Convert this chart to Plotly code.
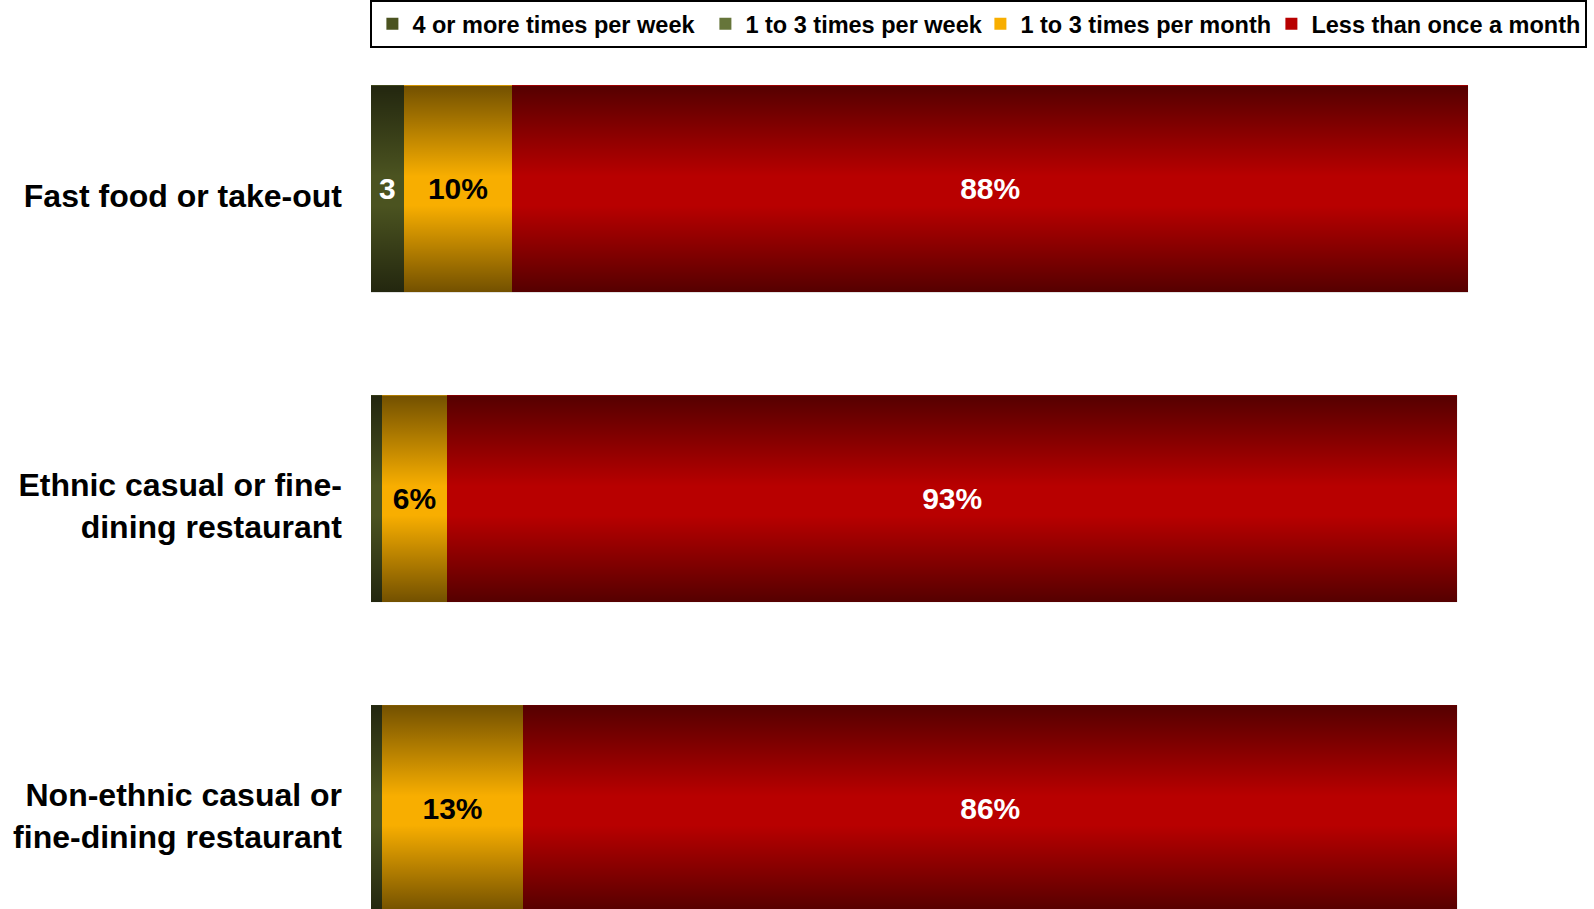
import base64
import plotly.graph_objects as go

# ---- data ----
categories = [
    "Fast food or take-out",
    "Ethnic casual or fine-<br>dining restaurant",
    "Non-ethnic casual or<br>fine-dining restaurant",
]
series_names = [
    "4 or more times per week",
    "1 to 3 times per week",
    "1 to 3 times per month",
    "Less than once a month",
]
four_plus_week = [3, 1, 1]
one_three_week = [0, 0, 0]
one_three_month = [10, 6, 13]
less_than_monthly = [88, 93, 86]

labels_four_plus_week = ["3", "", ""]
labels_one_three_week = ["", "", ""]
labels_one_three_month = [f"{v}%" for v in one_three_month]
labels_less_than_monthly = [f"{v}%" for v in less_than_monthly]

# ---- styles ----
FONT = "'Liberation Sans', Arial, Helvetica, sans-serif"
colors = ["#4B5320", "#66753A", "#F8AE00", "#B80000"]
text_colors = ["white", "white", "black", "white"]
legend_widths = [288, 230, 246, 0]   # legend entry widths (px), 0 = natural
bar_w = 0.668

values = [four_plus_week, one_three_week, one_three_month, less_than_monthly]
labels = [labels_four_plus_week, labels_one_three_week,
          labels_one_three_month, labels_less_than_monthly]

positions = list(range(len(categories)))

fig = go.Figure()
for name, vals, col, tcol, lab, lw in zip(series_names, values, colors,
                                          text_colors, labels, legend_widths):
    fig.add_trace(go.Bar(
        name=name,
        y=positions,
        x=vals,
        orientation="h",
        width=bar_w,
        marker=dict(color=col, line=dict(width=0)),
        text=lab,
        textposition="inside",
        insidetextanchor="middle",
        textangle=0,
        constraintext="none",
        textfont=dict(family=FONT, size=30, color=tcol, weight="bold"),
        hoverinfo="skip",
        legendwidth=lw if lw else None,
    ))

# vertical shading overlay (dark at top/bottom, bright in middle)
svg = (
    "<svg xmlns='http://www.w3.org/2000/svg' width='100' height='100' "
    "viewBox='0 0 100 100' preserveAspectRatio='none'>"
    "<defs><linearGradient id='g' x1='0' y1='0' x2='0' y2='1'>"
    "<stop offset='0' stop-color='#000' stop-opacity='0.54'/>"
    "<stop offset='0.44' stop-color='#000' stop-opacity='0'/>"
    "<stop offset='0.58' stop-color='#000' stop-opacity='0'/>"
    "<stop offset='1' stop-color='#000' stop-opacity='0.54'/>"
    "</linearGradient></defs>"
    "<rect x='0' y='0' width='100' height='100' fill='url(#g)'/></svg>"
)
svg_uri = "data:image/svg+xml;base64," + base64.b64encode(svg.encode()).decode()

totals = [sum(v[i] for v in values) for i in positions]
images = []
for i in positions:
    images.append(dict(
        source=svg_uri, xref="x", yref="y",
        x=0, y=positions[i] - bar_w / 2,
        sizex=totals[i], sizey=bar_w,
        sizing="stretch", xanchor="left", yanchor="top",
        layer="above", opacity=1,
    ))

H = 909
T = 33.5
plot_h = H - T

fig.update_layout(
    width=1594, height=H,
    margin=dict(l=371, r=15, t=T, b=0, pad=0),
    barmode="stack",
    plot_bgcolor="white", paper_bgcolor="white",
    images=images,
    showlegend=True,
    legend=dict(
        orientation="h",
        x=-0.0005, xanchor="left", xref="paper",
        y=1 + (T + 1) / plot_h, yanchor="top", yref="paper",
        bordercolor="black", borderwidth=2, bgcolor="white",
        font=dict(family=FONT, size=23.5, color="black", weight="bold"),
        traceorder="normal",
        tracegroupgap=0,
    ),
    xaxis=dict(range=[0, 111.2], visible=False, fixedrange=True),
    yaxis=dict(
        range=[2.324, -0.5],
        tickvals=positions, ticktext=categories,
        showgrid=False, zeroline=False, showline=False, ticks="",
        ticklabelstandoff=28,
        ticklabelshift=-7,
        tickfont=dict(family=FONT, size=32, color="black", weight="bold"),
        fixedrange=True,
    ),
)

fig.write_html(
    "out.html",
    config={"displayModeBar": False},
    post_script="document.body.style.margin='0';document.body.style.overflow='hidden';",
)
